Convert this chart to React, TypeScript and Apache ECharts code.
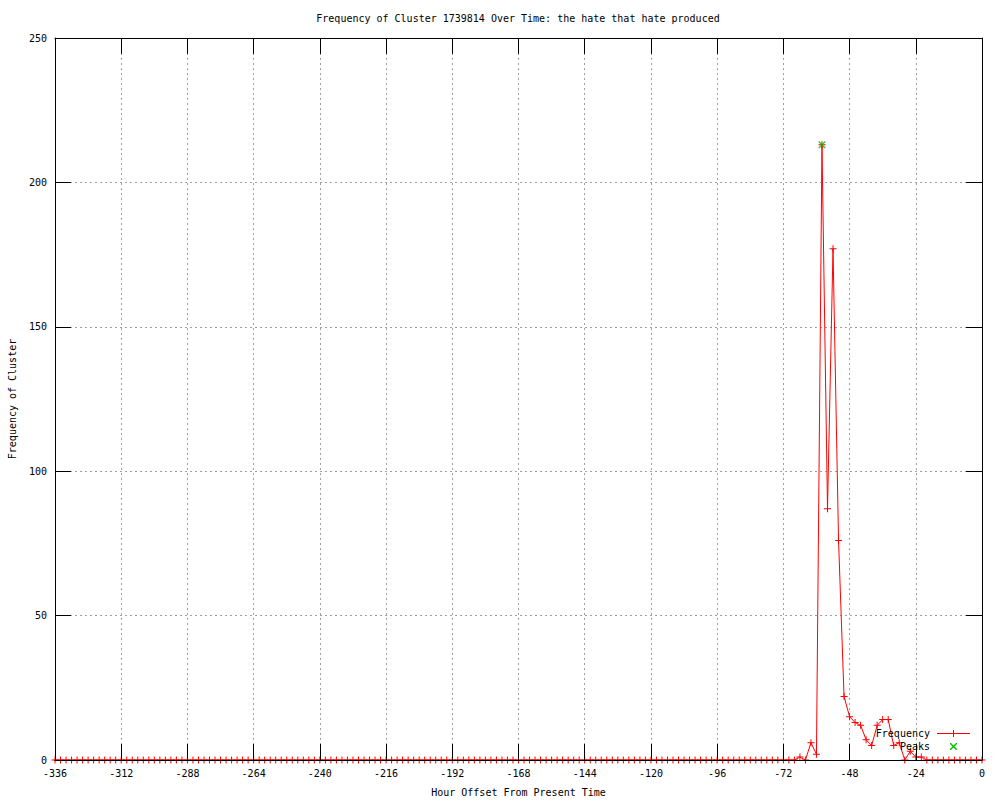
import React, { useEffect, useRef } from "react";
import * as echarts from "echarts";

const TITLE = "Frequency of Cluster 1739814 Over Time: the hate that hate produced";
const X_NAME = "Hour Offset From Present Time";
const Y_NAME = "Frequency of Cluster";

const hours = [
  -336, -334, -332, -330, -328, -326, -324, -322, -320, -318,
  -316, -314, -312, -310, -308, -306, -304, -302, -300, -298,
  -296, -294, -292, -290, -288, -286, -284, -282, -280, -278,
  -276, -274, -272, -270, -268, -266, -264, -262, -260, -258,
  -256, -254, -252, -250, -248, -246, -244, -242, -240, -238,
  -236, -234, -232, -230, -228, -226, -224, -222, -220, -218,
  -216, -214, -212, -210, -208, -206, -204, -202, -200, -198,
  -196, -194, -192, -190, -188, -186, -184, -182, -180, -178,
  -176, -174, -172, -170, -168, -166, -164, -162, -160, -158,
  -156, -154, -152, -150, -148, -146, -144, -142, -140, -138,
  -136, -134, -132, -130, -128, -126, -124, -122, -120, -118,
  -116, -114, -112, -110, -108, -106, -104, -102, -100, -98,
  -96, -94, -92, -90, -88, -86, -84, -82, -80, -78,
  -76, -74, -72, -70, -68, -66, -64, -62, -60, -58,
  -56, -54, -52, -50, -48, -46, -44, -42, -40, -38,
  -36, -34, -32, -30, -28, -26, -24, -22, -20, -18,
  -16, -14, -12, -10, -8, -6, -4, -2, 0,
];

const frequency = [
  0, 0, 0, 0, 0, 0, 0, 0, 0, 0,
  0, 0, 0, 0, 0, 0, 0, 0, 0, 0,
  0, 0, 0, 0, 0, 0, 0, 0, 0, 0,
  0, 0, 0, 0, 0, 0, 0, 0, 0, 0,
  0, 0, 0, 0, 0, 0, 0, 0, 0, 0,
  0, 0, 0, 0, 0, 0, 0, 0, 0, 0,
  0, 0, 0, 0, 0, 0, 0, 0, 0, 0,
  0, 0, 0, 0, 0, 0, 0, 0, 0, 0,
  0, 0, 0, 0, 0, 0, 0, 0, 0, 0,
  0, 0, 0, 0, 0, 0, 0, 0, 0, 0,
  0, 0, 0, 0, 0, 0, 0, 0, 0, 0,
  0, 0, 0, 0, 0, 0, 0, 0, 0, 0,
  0, 0, 0, 0, 0, 0, 0, 0, 0, 0,
  0, 0, 0, 0, 0, 1, 0, 6, 2, 213,
  87, 177, 76, 22, 15, 13, 12, 7, 5, 12,
  14, 14, 5, 6, 0, 3, 1, 1, 0, 0,
  0, 0, 0, 0, 0, 0, 0, 0, 0,
];

const peakHours = [-58];
const peakValues = [213];

const xTicks = { min: -336, max: 0, interval: 24 };
const yTicks = { min: 0, max: 250, interval: 50 };

const FONT = "DejaVu Sans Mono";
const PLUS = "path://M0,3H7V4H0Z M3,0H4V7H3Z";
const CROSS = "path://M0,0L1,0L7,6L7,7L6,7L0,1Z M6,0L7,0L7,1L1,7L0,7L0,6Z";

export default function App() {
  const ref = useRef<HTMLDivElement>(null);

  useEffect(() => {
    if (!ref.current) return;
    const chart = echarts.init(ref.current, null, { renderer: "svg" });
    const textStyle = { color: "#000", fontFamily: FONT, fontSize: 10 };
    const gridLine = { show: true, lineStyle: { color: "#a0a0a0", width: 1, type: [2, 3] as any } };
    const blackLine = { show: true, onZero: false, lineStyle: { color: "#000", width: 1 } };
    const tick = { show: true, inside: true, length: 16, lineStyle: { color: "#000", width: 1 } };

    chart.setOption({
      animation: false,
      backgroundColor: "#fff",
      grid: { left: 55, right: 18, top: 38, bottom: 40, show: false, containLabel: false, outerBoundsMode: "none" },
      xAxis: [
        {
          type: "value",
          position: "bottom",
          ...xTicks,
          z: 5,
          axisLine: blackLine,
          axisTick: tick,
          axisLabel: { ...textStyle, margin: 8 },
          splitLine: { show: false },
          name: X_NAME,
          nameLocation: "middle",
          nameGap: 27,
          nameTextStyle: textStyle,
        },
        {
          type: "value",
          position: "top",
          ...xTicks,
          axisLine: blackLine,
          axisTick: tick,
          axisLabel: { show: false },
          splitLine: gridLine,
        },
      ],
      yAxis: [
        {
          type: "value",
          position: "left",
          ...yTicks,
          z: 5,
          axisLine: blackLine,
          axisTick: tick,
          axisLabel: { ...textStyle, margin: 8 },
          splitLine: { show: false },
          name: Y_NAME,
          nameLocation: "middle",
          nameGap: 38,
          nameRotate: 90,
          nameTextStyle: textStyle,
        },
        {
          type: "value",
          position: "right",
          ...yTicks,
          axisLine: blackLine,
          axisTick: tick,
          axisLabel: { show: false },
          splitLine: gridLine,
        },
      ],
      series: [
        {
          type: "line",
          name: "Frequency",
          xAxisIndex: 0,
          yAxisIndex: 0,
          data: hours.map((x, i) => [x, frequency[i]]),
          symbol: PLUS,
          symbolSize: 7,
          showAllSymbol: true,
          lineStyle: { color: "#ff0000", width: 1 },
          itemStyle: { color: "#ff0000" },
          emphasis: { disabled: true },
          z: 2,
        },
        {
          type: "scatter",
          name: "Peaks",
          xAxisIndex: 0,
          yAxisIndex: 0,
          data: peakHours.map((x, i) => [x, peakValues[i]]),
          symbol: CROSS,
          symbolSize: 7,
          itemStyle: { color: "#00c000" },
          emphasis: { disabled: true },
          z: 3,
        },
      ],
      graphic: [
        {
          type: "text",
          x: 518,
          y: 18,
          style: { text: TITLE, fill: "#000", font: `10px "${FONT}"`, align: "center", verticalAlign: "middle" },
        },
        {
          type: "text",
          x: 930,
          y: 733,
          z: 10,
          style: { text: "Frequency", fill: "#000", font: `10px "${FONT}"`, align: "right", verticalAlign: "middle" },
        },
        {
          type: "rect",
          z: 10,
          shape: { x: 937, y: 733, width: 33, height: 1 },
          style: { fill: "#ff0000", stroke: null },
        },
        {
          type: "rect",
          z: 10,
          shape: { x: 953, y: 730, width: 1, height: 7 },
          style: { fill: "#ff0000", stroke: null },
        },
        {
          type: "text",
          x: 930,
          y: 746,
          z: 10,
          style: { text: "Peaks", fill: "#000", font: `10px "${FONT}"`, align: "right", verticalAlign: "middle" },
        },
        {
          type: "polygon",
          z: 10,
          shape: { points: [[950, 743], [951, 743], [957, 749], [957, 750], [956, 750], [950, 744]] },
          style: { fill: "#00c000" },
        },
        {
          type: "polygon",
          z: 10,
          shape: { points: [[956, 743], [957, 743], [957, 744], [951, 750], [950, 750], [950, 749]] },
          style: { fill: "#00c000" },
        },
      ],
    });
    return () => chart.dispose();
  }, []);

  return (
    <div
      ref={ref}
      style={{ position: "fixed", left: 0, top: 0, width: 1000, height: 800, background: "#fff" }}
    />
  );
}
